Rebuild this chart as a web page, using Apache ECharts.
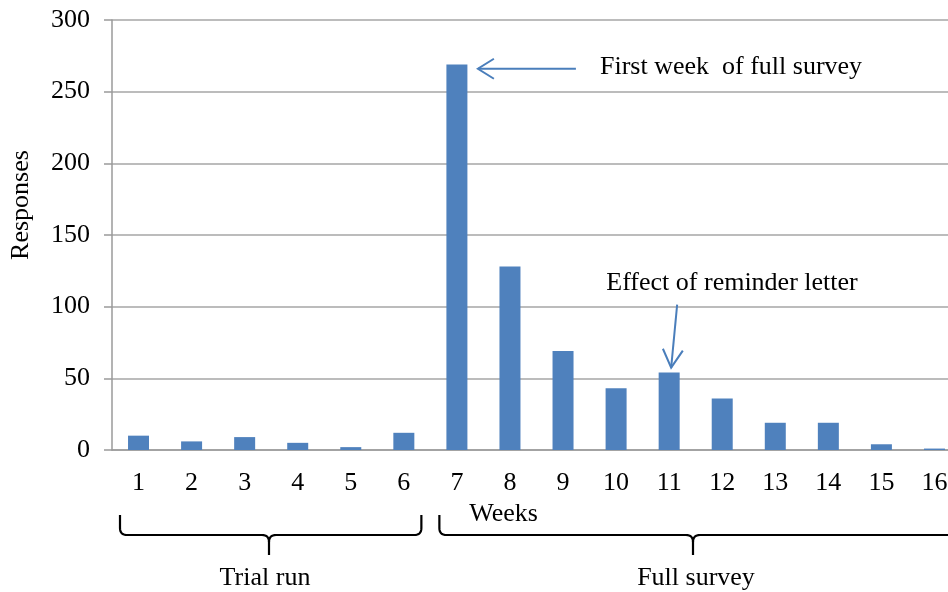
<!DOCTYPE html>
<html>
<head>
<meta charset="utf-8">
<script src="https://cdn.jsdelivr.net/npm/echarts@6/dist/echarts.min.js"></script>
<style>html,body{margin:0;padding:0;background:#fff;overflow:hidden}#c{width:961px;height:592px}</style>
</head>
<body>
<div id="c"></div>
<script>
const weeks = ['1','2','3','4','5','6','7','8','9','10','11','12','13','14','15','16'];
const responses = [10, 6, 9, 5, 2, 12, 269, 128, 69, 43, 54, 36, 19, 19, 4, 1];
const yMin = 0, yMax = 300, yStep = 50;
const xTitle = 'Weeks';
const yTitle = 'Responses';
const note1 = 'First week  of full survey';
const note2 = 'Effect of reminder letter';
const groupTrial = 'Trial run';
const groupFull = 'Full survey';

const FONT = '"Liberation Serif", "Times New Roman", serif';
const FS = 26;
const chart = echarts.init(document.getElementById('c'), null, {renderer: 'canvas'});
chart.setOption({
  animation: false,
  backgroundColor: '#fff',
  grid: {left: 110, top: 20, right: 0, height: 430, containLabel: false},
  xAxis: {
    type: 'category',
    data: weeks,
    name: xTitle,
    nameLocation: 'middle',
    nameGap: 47,
    nameTextStyle: {fontFamily: FONT, fontSize: FS, color: '#000', padding: [0, 66, 0, 0]},
    axisLine: {lineStyle: {color: '#9a9a9a', width: 1.5}},
    axisTick: {alignWithLabel: false, length: 8, lineStyle: {color: '#9a9a9a', width: 1.5}},
    axisLabel: {fontFamily: FONT, fontSize: FS, color: '#000', margin: 20}
  },
  yAxis: {
    type: 'value',
    min: yMin, max: yMax, interval: yStep,
    name: yTitle,
    nameLocation: 'middle',
    nameGap: 78,
    nameTextStyle: {fontFamily: FONT, fontSize: FS, color: '#000', padding: [0, 0, 0, 60]},
    axisLine: {show: true, lineStyle: {color: '#9a9a9a', width: 1.5}},
    axisTick: {show: true, length: 8, lineStyle: {color: '#9a9a9a', width: 1.5}},
    splitLine: {lineStyle: {color: '#a6a6a6', width: 1.5}},
    axisLabel: {fontFamily: FONT, fontSize: FS, color: '#000', margin: 22}
  },
  series: [{
    type: 'bar',
    data: responses,
    barWidth: 21,
    itemStyle: {color: '#4F81BD'}
  }]
});

function px(cat, val) { return chart.convertToPixel({xAxisIndex: 0, yAxisIndex: 0}, [cat, val]); }
const ARROW = '#4A7EBB';
const p7 = px('7', responses[6] - 3);
const tip1 = [p7[0] + 21, p7[1]];
const tail1 = [tip1[0] + 98, tip1[1]];
const p11 = px('11', responses[10]);
const tip2 = [p11[0] + 2, p11[1] - 5];
const tail2 = [tip2[0] + 6, tip2[1] - 63];

function head(tip, tail, len, wid) {
  const dx = tail[0] - tip[0], dy = tail[1] - tip[1];
  const L = Math.hypot(dx, dy); const ux = dx / L, uy = dy / L;
  const bx = tip[0] + ux * len, by = tip[1] + uy * len;
  return [[bx - uy * wid, by + ux * wid], tip, [bx + uy * wid, by - ux * wid]];
}
function quad(p0, c, p1, n) {
  const out = [];
  for (let i = 0; i <= n; i++) {
    const t = i / n, a = (1 - t) * (1 - t), b = 2 * (1 - t) * t, d = t * t;
    out.push([a * p0[0] + b * c[0] + d * p1[0], a * p0[1] + b * c[1] + d * p1[1]]);
  }
  return out;
}
function braceHalves(x1, x2, xm, yTop, yMid, yTip) {
  const r = 7;
  const left = [[x1, yTop]].concat(
    quad([x1, yMid - r], [x1, yMid], [x1 + r, yMid], 8),
    quad([xm - r, yMid], [xm, yMid], [xm, yMid + r], 8),
    [[xm, yTip]]);
  const right = [[xm, yMid + r]].concat(
    quad([xm, yMid + r], [xm, yMid], [xm + r, yMid], 8),
    quad([x2 - r, yMid], [x2, yMid], [x2, yMid - r], 8),
    [[x2, yTop]]);
  return [left, right];
}
const p1 = px('1', 0), p6 = px('6', 0), p7b = px('7', 0), p16 = px('16', 0);
const bw = (p16[0] - p1[0]) / 15;
const tL1 = p1[0] - bw / 2 + 8, tR1 = p6[0] + bw / 2 - 9;
const tL2 = p7b[0] - bw / 2 + 9, tR2 = p16[0] + bw / 2 + 10;
const b1 = braceHalves(tL1, tR1, 269, 515, 535, 555);
const b2 = braceHalves(tL2, tR2, 693, 515, 535, 555);
const braceStyle = {stroke: '#000', lineWidth: 2.2, fill: null};

chart.setOption({
  graphic: [
    {type: 'polyline', shape: {points: [tail1, tip1]}, style: {stroke: ARROW, lineWidth: 2, fill: null}},
    {type: 'polyline', shape: {points: head(tip1, tail1, 16, 10)}, style: {stroke: ARROW, lineWidth: 2, fill: null}},
    {type: 'polyline', shape: {points: [tail2, tip2]}, style: {stroke: ARROW, lineWidth: 2, fill: null}},
    {type: 'polyline', shape: {points: head(tip2, tail2, 18, 10)}, style: {stroke: ARROW, lineWidth: 2, fill: null}},
    {type: 'text', style: {text: note1, x: 600, y: 67, textVerticalAlign: 'middle', textAlign: 'left', fontFamily: FONT, fontSize: FS, fill: '#000'}},
    {type: 'text', style: {text: note2, x: 732, y: 283, textVerticalAlign: 'middle', textAlign: 'center', fontFamily: FONT, fontSize: FS, fill: '#000'}},
    {type: 'polyline', shape: {points: b1[0]}, style: braceStyle},
    {type: 'polyline', shape: {points: b1[1]}, style: braceStyle},
    {type: 'polyline', shape: {points: b2[0]}, style: braceStyle},
    {type: 'polyline', shape: {points: b2[1]}, style: braceStyle},
    {type: 'text', style: {text: groupTrial, x: 265, y: 578, textVerticalAlign: 'middle', textAlign: 'center', fontFamily: FONT, fontSize: FS, fill: '#000'}},
    {type: 'text', style: {text: groupFull, x: 696, y: 578, textVerticalAlign: 'middle', textAlign: 'center', fontFamily: FONT, fontSize: FS, fill: '#000'}}
  ]
});
</script>
</body>
</html>
